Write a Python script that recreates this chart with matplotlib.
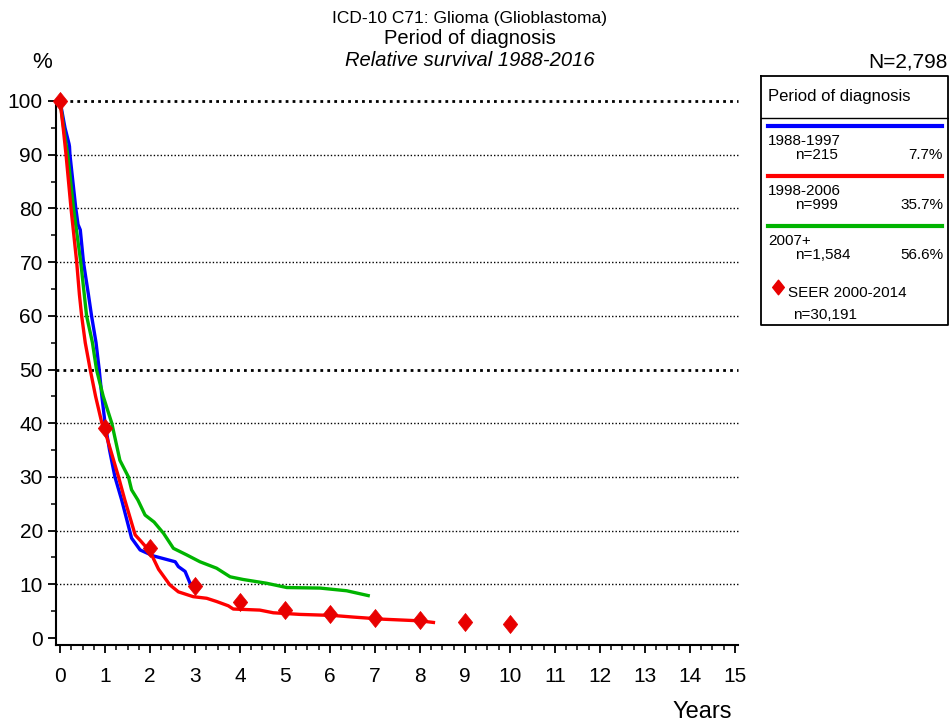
import numpy as np
import matplotlib
matplotlib.use("Agg")
import matplotlib.pyplot as plt
from matplotlib.ticker import MultipleLocator
from matplotlib.path import Path

plt.rcParams['font.family'] = ['Liberation Sans', 'DejaVu Sans']
NARROW = ['Liberation Sans Narrow', 'Liberation Sans', 'DejaVu Sans']

# relative survival curves (years, %)
blue_t = [0, 0.11, 0.20, 0.21, 0.22, 0.35, 0.40, 0.45, 0.52, 0.63, 0.70, 0.80, 0.87,
          0.93, 1.0, 1.10, 1.22, 1.37, 1.59, 1.78, 2.07, 2.56, 2.63, 2.78, 2.89, 2.95]
blue_v = [100, 95, 92, 91.5, 90, 80, 77, 76, 70, 64, 60, 55, 50,
          45, 40, 35, 30, 25.7, 18.6, 16.4, 15.3, 14.2, 13.3, 12.4, 10.2, 10.0]

red_t = [0, 0.07, 0.133, 0.244, 0.37, 0.43, 0.48, 0.56, 0.67, 0.79, 0.93, 1.0, 1.30,
         1.44, 1.67, 1.80, 2.0, 2.19, 2.44, 2.63, 2.96, 3.26, 3.48, 3.74, 3.85, 4.44,
         4.74, 5.33, 6.07, 6.52, 7.19, 8.0, 8.30]
red_v = [100, 95, 90, 80, 70, 64, 60, 55, 50, 45, 40, 38.5, 30,
         25.7, 19.2, 18.0, 16.1, 12.8, 9.9, 8.6, 7.7, 7.4, 6.8, 6.0, 5.4, 5.2,
         4.7, 4.4, 4.2, 3.9, 3.5, 3.2, 2.9]

green_t = [0, 0.08, 0.17, 0.30, 0.46, 0.59, 0.72, 0.81, 0.96, 1.15, 1.33, 1.52, 1.59,
           1.73, 1.89, 2.09, 2.30, 2.52, 2.81, 3.11, 3.48, 3.78, 4.07, 4.59, 5.04,
           5.78, 6.37, 6.85]
green_v = [100, 95, 90, 80, 70, 60, 55, 50, 45, 40, 33.1, 30, 27.6,
           25.7, 22.9, 21.6, 19.5, 16.7, 15.5, 14.2, 13.0, 11.4, 10.9, 10.2, 9.4,
           9.3, 8.8, 7.9]

# SEER 2000-2014 reference points
seer_t = [0, 1, 2, 3, 4, 5, 6, 7, 8, 9, 10]
seer_v = [100, 39.2, 16.7, 9.7, 6.8, 5.3, 4.5, 3.7, 3.4, 2.9, 2.7]

groups = ['1988-1997', '1998-2006', '2007+']
group_n = ['n=215', 'n=999', 'n=1,584']
group_pct = ['7.7%', '35.7%', '56.6%']
colors = ['#0000ff', '#ff0000', '#00b400']

# slightly tall diamond
diamond = Path([(0, 1), (0.8, 0), (0, -1), (-0.8, 0), (0, 1)],
               [Path.MOVETO, Path.LINETO, Path.LINETO, Path.LINETO, Path.CLOSEPOLY])

W, H = 949, 726
fig = plt.figure(figsize=(W / 100, H / 100), dpi=100)

ax = fig.add_axes([56 / W, 1 - 645 / H, (738 - 56) / W, (645 - 101) / H])
ax.set_xlim(-0.09, 15.07)
ax.set_ylim(-1.3, 100)

for y in range(10, 101, 10):
    lw = 2.0 if y in (50, 100) else 1.0
    ax.axhline(y, color='black', lw=lw, ls=(0, (1, 1.5)), zorder=1, clip_on=False)

ax.plot(blue_t, blue_v, color=colors[0], lw=2.4, zorder=3, solid_joinstyle='round')
ax.plot(green_t, green_v, color=colors[2], lw=2.4, zorder=4, solid_joinstyle='round')
ax.plot(red_t, red_v, color=colors[1], lw=2.4, zorder=5, solid_joinstyle='round')
ax.plot(seer_t, seer_v, ls='none', marker=diamond, ms=13, color='#e80000', zorder=6,
        clip_on=False, mec='#e80000', mew=0.5)

for s in ['top', 'right']:
    ax.spines[s].set_visible(False)
for s in ['left', 'bottom']:
    ax.spines[s].set_linewidth(1.5)

ax.xaxis.set_major_locator(MultipleLocator(1))
ax.xaxis.set_minor_locator(MultipleLocator(0.25))
ax.yaxis.set_major_locator(MultipleLocator(10))
ax.yaxis.set_minor_locator(MultipleLocator(5))
ax.tick_params(axis='both', which='major', length=5.5, width=1.3, direction='out')
ax.tick_params(axis='both', which='minor', length=3.5, width=1.1, direction='out')
ax.tick_params(axis='x', pad=10)
ax.tick_params(axis='y', pad=4)
for lab in ax.get_xticklabels() + ax.get_yticklabels():
    lab.set_family(NARROW)
    lab.set_fontsize(15)

# titles
fig.text(470 / W, 1 - 18 / H, 'ICD-10 C71: Glioma (Glioblastoma)', ha='center', va='center',
         fontsize=12.5, family=NARROW)
fig.text(470 / W, 1 - 38 / H, 'Period of diagnosis', ha='center', va='center',
         fontsize=14.5, family=NARROW)
fig.text(470 / W, 1 - 60 / H, 'Relative survival 1988-2016', ha='center', va='center',
         fontsize=14.5, style='italic', family=NARROW)
fig.text(42 / W, 1 - 62 / H, '%', ha='center', va='center', fontsize=16, family=NARROW)
fig.text(948 / W, 1 - 62 / H, 'N=2,798', ha='right', va='center', fontsize=15, family=NARROW)
fig.text(702 / W, 1 - 712 / H, 'Years', ha='center', va='center', fontsize=17, family=NARROW)

# legend panel
lg = fig.add_axes([760 / W, 1 - 326 / H, 189 / W, 251 / H])
lg.set_xlim(760, 949)
lg.set_ylim(326, 75)
lg.axis('off')
lg.plot([760.5, 948, 948, 760.5, 760.5], [75.5, 75.5, 325, 325, 75.5], color='black', lw=1.3,
        clip_on=False)
lg.plot([760.5, 948], [118, 118], color='black', lw=1.0)
lg.text(768, 97, 'Period of diagnosis', fontsize=12, va='center', ha='left')
for i in range(3):
    y0 = 126 + 50 * i
    lg.plot([768, 942], [y0, y0], color=colors[i], lw=3)
    lg.text(768, y0 + 15, groups[i], fontsize=11, va='center', ha='left')
    lg.text(795, y0 + 29, group_n[i], fontsize=11, va='center', ha='left')
    lg.text(943, y0 + 29, group_pct[i], fontsize=11, va='center', ha='right')
lg.plot([778], [287], marker=diamond, ms=10.5, color='#e80000', ls='none')
lg.text(788, 293, 'SEER 2000-2014', fontsize=11, va='center', ha='left')
lg.text(793, 315, 'n=30,191', fontsize=11, va='center', ha='left')

fig.savefig('out.png', dpi=100)
